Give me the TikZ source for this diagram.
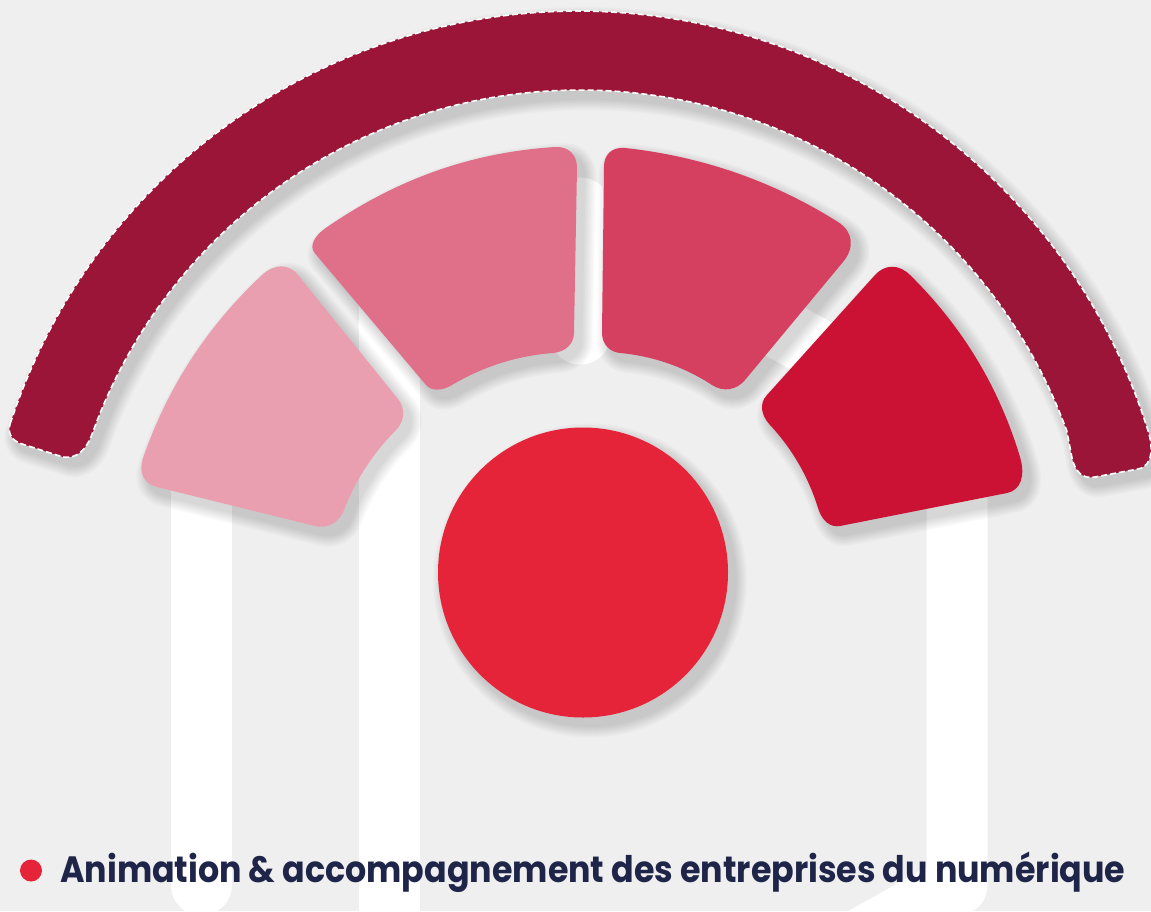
\documentclass[tikz,border=0pt]{standalone}
\usepackage{fontspec}
\setmainfont{Poppins}
\definecolor{pagegrey}{HTML}{EFEFEF}
\definecolor{arcred}{HTML}{9A1538}
\definecolor{petalone}{HTML}{EA9FB0}
\definecolor{petaltwo}{HTML}{E0708A}
\definecolor{petalthree}{HTML}{D64060}
\definecolor{petalfour}{HTML}{CB1235}
\definecolor{corered}{HTML}{E52339}
\definecolor{captionnavy}{HTML}{1F2449}
\tikzset{
    logoline/.style={draw=white, line width=61, line cap=round, line join=round},
    softshade/.style={draw=black, fill=black, line join=round, shift={(7,8)}},
    dashedge/.style={draw=white, line width=1.6, dash pattern=on 6 off 3},
    captiontext/.style={anchor=base west, inner sep=0, text=captionnavy, font=\fontsize{33.3}{33.3}\selectfont\bfseries},
}
% fill of one shape, with its drop shadow under it
\newcommand{\castshape}[2]{%
    \foreach \w in {24,21,...,3} {
        \begin{scope}[transparency group, opacity=0.02]
            \path[softshade, line width=\w] #2;
        \end{scope}
    }
    \fill[#1] #2;
}
\newcommand{\arcpath}{plot[domain=162:17.5, samples=80] ({578+597*cos(\x)},{608-597*sin(\x)})
    .. controls (1153,445) and (1154,466) .. (1138,469) -- (1095,477)
    .. controls (1082,479.5) and (1075,471) .. (1072,458)
    -- plot[domain=20:160.4, samples=80] ({580+518*cos(\x)},{608-518*sin(\x)})
    .. controls (86,450) and (77,459) .. (63,457) -- (22,444)
    .. controls (12,441) and (7,433) .. cycle}
\newcommand{\petalonepath}{(157,487) -- (315,526) .. controls (327.4,529.1) and (339,522.7) .. (344,510)
    .. controls (355.7,479.7) and (373.1,453.1) .. (396,430)
    .. controls (404.9,420.9) and (405.7,408.5) .. (398,399) -- (298,275)
    .. controls (288.7,263.5) and (274.3,263.5) .. (262,275)
    .. controls (207.3,326.1) and (167.6,387.1) .. (143,458)
    .. controls (138.1,472.1) and (143.7,483.7) .. cycle}
\newcommand{\petaltwopath}{(326,227.8) .. controls (397.8,178.2) and (472.8,152.2) .. (555,147)
    .. controls (568.4,146.2) and (577.2,154.6) .. (577,168) -- (574,333)
    .. controls (573.8,344) and (565.4,352) .. (553,353)
    .. controls (516.9,355.8) and (483.2,366.5) .. (452,385)
    .. controls (441.6,391.2) and (431.2,391.2) .. (426,385) -- (314.8,253.2)
    .. controls (309.1,246.5) and (313.6,236.3) .. cycle}
\newcommand{\petalthreepath}{(625,148) .. controls (701.7,156.3) and (772.7,180.9) .. (838,222)
    .. controls (853.1,231.5) and (855.1,247.5) .. (843,262) -- (745,380)
    .. controls (736.4,390.3) and (723.2,392.3) .. (712,385)
    .. controls (684,366.8) and (653.3,356.1) .. (620,353)
    .. controls (609.3,352) and (602.1,343.8) .. (602,333) -- (604,166)
    .. controls (604.2,154) and (612.6,146.7) .. cycle}
\newcommand{\petalfourpath}{(910,275) .. controls (962.2,326.3) and (998.9,386.9) .. (1020,457)
    .. controls (1025.7,476) and (1020.5,490.4) .. (1007,493) -- (840,526)
    .. controls (830.8,527.8) and (822,521.2) .. (818,508)
    .. controls (808.3,476.7) and (792.3,449) .. (770,425)
    .. controls (760.9,415.2) and (759,403.2) .. (767,395) -- (875,275)
    .. controls (884.9,264) and (899.1,264) .. cycle}
\newcommand{\corepath}{(583,572.5) circle[radius=145]}

\begin{document}
\begin{tikzpicture}[x=1pt, y=-1pt]
    \clip (0,0) rectangle (1151,911);
    \fill[pagegrey] (0,0) rectangle (1151,911);

    % white logo strokes behind everything
    \path[logoline] (201,470) -- (201,885);
    \path[logoline] (389,945) -- (389,300);
    \path[logoline] (389,325) -- (580,219);
    \path[logoline] (580,334) -- (580,208);
    \path[logoline] (580,219) -- (957,426) -- (957,885) -- (850,945);

    \castshape{arcred}{\arcpath}
    \path[dashedge] \arcpath;
    \castshape{petalone}{\petalonepath}
    \castshape{petaltwo}{\petaltwopath}
    \castshape{petalthree}{\petalthreepath}
    \castshape{petalfour}{\petalfourpath}
    \castshape{corered}{\corepath}

    % legend line
    \node[circle, fill=corered, minimum size=22, inner sep=0] (bullet) at (31,870.5) {};
    \node[captiontext] (caption) at (60,882) {\scalebox{1}[1.1]{Animation \& accompagnement des entreprises du numérique}};
\end{tikzpicture}
\end{document}
